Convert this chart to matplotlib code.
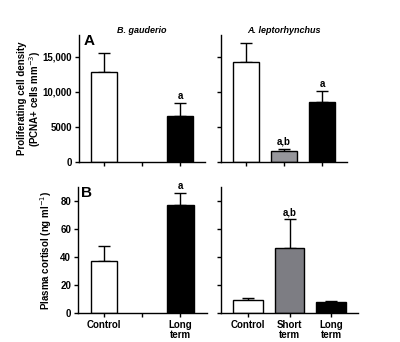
import numpy as np
import matplotlib
matplotlib.use('Agg')
import matplotlib.pyplot as plt

plt.rcParams['font.family'] = ['Liberation Sans', 'DejaVu Sans']

# proliferating cell density (PCNA+ cells mm-3)
bg_pcna = [12800, np.nan, 6600]
bg_pcna_err = [2700, 0, 1800]
al_pcna = [14300, 1600, 8500]
al_pcna_err = [2700, 300, 1600]
bg_pcna_sig = ['', '', 'a']
al_pcna_sig = ['', 'a,b', 'a']

# plasma cortisol (ng ml-1)
bg_cort = [37.5, np.nan, 77]
bg_cort_err = [10.5, 0, 9]
al_cort = [9.5, 46.5, 8]
al_cort_err = [1.5, 20.5, 0.8]
bg_cort_sig = ['', '', 'a']
al_cort_sig = ['', 'a,b', '']

groups = ['Control', 'Short\nterm', 'Long\nterm']
bg_groups = ['Control', '', 'Long\nterm']
top_colors = ['white', '#96969b', 'black']
bot_colors = ['white', '#7d7d83', 'black']

W, H = 400, 342
fig = plt.figure(figsize=(W / 100, H / 100), dpi=100)


def box(l, r, t, b):
    return fig.add_axes([l / W, 1 - b / H, (r - l) / W, (b - t) / H])


def bars(ax, vals, errs, sig, colors, xlim, ylim, width, off):
    x = np.arange(3)
    ax.bar(x, vals, width=width, color=colors, edgecolor='black', linewidth=1.0, zorder=2)
    for i in range(3):
        if np.isnan(vals[i]):
            continue
        ax.errorbar(x[i], vals[i], yerr=[[0], [errs[i]]], fmt='none', ecolor='black',
                    elinewidth=1.0, capsize=4.5, capthick=1.0, zorder=1)
        if sig[i]:
            ax.text(x[i], vals[i] + errs[i] + off, sig[i], ha='center', va='bottom',
                    fontsize=7, fontweight='bold')
    ax.set_xlim(*xlim)
    ax.set_ylim(*ylim)
    ax.set_xticks(x)
    for s in ['top', 'right']:
        ax.spines[s].set_visible(False)
    for s in ['left', 'bottom']:
        ax.spines[s].set_linewidth(1.0)
    ax.tick_params(direction='out', length=3, width=1.0, labelsize=7, pad=2)


ax1 = box(79, 205, 35, 162)
bars(ax1, bg_pcna, bg_pcna_err, bg_pcna_sig, top_colors, (-0.66, 2.66), (0, 18100), 0.68, 300)
ax1.set_yticks([0, 5000, 10000, 15000])
ax1.set_yticklabels(['0', '5000', '10,000', '15,000'], fontweight='bold')
ax1.set_xticklabels([])
ax1.set_ylabel('Proliferating cell density\n(PCNA+ cells mm$^{-3}$)', fontsize=7,
               fontweight='bold', labelpad=-0.5, linespacing=1.0)
ax1.set_title('B. gauderio', fontsize=6.5, style='italic', fontweight='bold', pad=1)
ax1.text(-0.55, 17300, 'A', fontsize=11, fontweight='bold', va='center')

ax2 = box(221, 347, 35, 162)
bars(ax2, al_pcna, al_pcna_err, al_pcna_sig, top_colors, (-0.66, 2.66), (0, 18100), 0.68, 300)
ax2.set_yticks([0, 5000, 10000, 15000])
ax2.set_yticklabels([])
ax2.set_xticklabels([])
ax2.set_title('A. leptorhynchus', fontsize=6.5, style='italic', fontweight='bold', pad=1)

ax3 = box(78, 207, 187, 313)
bars(ax3, bg_cort, bg_cort_err, bg_cort_sig, bot_colors, (-0.68, 2.7), (0, 90), 0.7, 1.5)
ax3.set_yticks([0, 20, 40, 60, 80])
ax3.set_yticklabels(['0', '20', '40', '60', '80'], fontweight='bold')
ax3.set_xticklabels(bg_groups, fontsize=7, fontweight='bold', linespacing=0.95)
ax3.set_ylabel('Plasma cortisol (ng ml$^{-1}$)', fontsize=7, fontweight='bold', labelpad=4.5)
ax3.text(-0.6, 86, 'B', fontsize=11, fontweight='bold', va='center')

ax4 = box(221, 358, 187, 313)
bars(ax4, al_cort, al_cort_err, al_cort_sig, bot_colors, (-0.65, 2.65), (0, 90), 0.7, 1.5)
ax4.set_yticks([0, 20, 40, 60, 80])
ax4.set_yticklabels([])
ax4.set_xticklabels(groups, fontsize=7, fontweight='bold', linespacing=0.95)

fig.savefig('out.png', dpi=100)
